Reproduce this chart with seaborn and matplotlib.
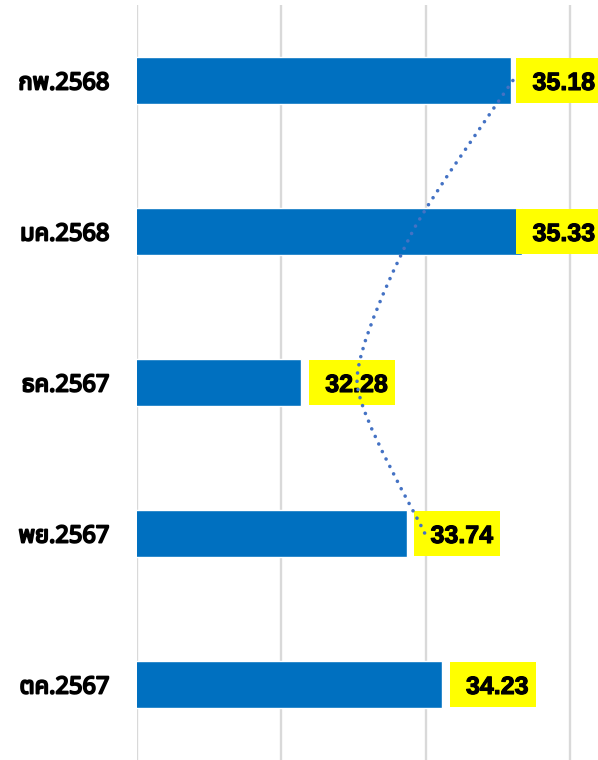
import matplotlib
matplotlib.use("Agg")
import matplotlib.pyplot as plt
from matplotlib.patches import Rectangle, PathPatch
from matplotlib.path import Path
import matplotlib.patheffects as pe
import numpy as np
import seaborn as sns

# Monthly values, listed top to bottom
months = ["กพ.2568", "มค.2568", "ธค.2567", "พย.2567", "ตค.2567"]
values = [35.18, 35.33, 32.28, 33.74, 34.23]

# Dotted trend series (Feb, Jan, Dec, Nov)
trend_months = ["กพ.2568", "มค.2568", "ธค.2567", "พย.2567"]
trend_values = [35.21, 33.82, 33.05, 33.99]

label_values = [f"{v:.2f}" for v in values]

sns.set_theme(style="white")
thai_fonts = ["Noto Sans Thai", "Noto Sans Thai UI", "Noto Looped Thai", "Sarabun",
              "Kanit", "Loma", "Garuda", "Tlwg Typist", "Norasi", "DejaVu Sans"]
plt.rcParams["font.family"] = thai_fonts

XMIN, XMAX = 30.0, 36.39
PX_PER_UNIT = 72.1

fig = plt.figure(figsize=(5.98, 7.60), dpi=100)
ax = fig.add_axes([137 / 598, 0.0, 461 / 598, 755 / 760])

sns.barplot(x=values, y=months, order=months, orient="h", color="#0070C0",
            width=0.31, saturation=1, ax=ax, zorder=2)

ax.set_xlim(XMIN, XMAX)
ax.set_ylim(4.5, -0.5)
ax.set_xticks([30, 32, 34, 36])
ax.xaxis.grid(True, color="#d9d9d9", linewidth=1.7, zorder=0)
ax.set_axisbelow(True)
ax.tick_params(axis="x", length=0, labelbottom=False)
ax.tick_params(axis="y", length=0, pad=20)
for s in ax.spines.values():
    s.set_visible(False)
ax.set_xlabel("")
ax.set_ylabel("")
for t in ax.get_yticklabels():
    t.set_fontweight("bold")
    t.set_fontsize(17)
    t.set_color("black")
    t.set_path_effects([pe.withStroke(linewidth=1.4, foreground="black")])

# Yellow value boxes next to each bar
gap = 7.5 / PX_PER_UNIT
box_w = 86 / PX_PER_UNIT
box_h = 0.30
label_limit = 36.45
for i, (v, txt) in enumerate(zip(values, label_values)):
    left = min(v + gap, label_limit - box_w)
    ax.add_patch(Rectangle((left, i - box_h / 2), box_w, box_h,
                           facecolor="#FFFF00", edgecolor="none", zorder=3,
                           clip_on=False))
    ax.text(left + 47.5 / PX_PER_UNIT, i, txt, ha="center", va="center_baseline",
            fontsize=18, fontweight="bold", family="Liberation Sans",
            color="black", zorder=4,
            path_effects=[pe.withStroke(linewidth=0.8, foreground="black")])

# Smoothed dotted trend line (cardinal spline built in display space)
pos = {m: k for k, m in enumerate(months)}
pts = ax.transData.transform(np.column_stack([trend_values,
                                              [pos[m] for m in trend_months]]))
n = len(pts)
smooth = 1 / 9
verts = [pts[0]]
codes = [Path.MOVETO]
for k in range(n - 1):
    p_prev = pts[k - 1] if k > 0 else pts[k]
    p_next2 = pts[k + 2] if k + 2 < n else pts[k + 1]
    c1 = pts[k] + (pts[k + 1] - p_prev) * smooth
    c2 = pts[k + 1] - (p_next2 - pts[k]) * smooth
    verts += [c1, c2, pts[k + 1]]
    codes += [Path.CURVE4] * 3
verts = ax.transData.inverted().transform(np.array(verts))
ax.add_patch(PathPatch(Path(verts, codes), facecolor="none", edgecolor="#4472C4",
                       linewidth=2.6, linestyle=(0, (0.01, 2.3)),
                       capstyle="round", zorder=5))

fig.savefig("out.png", dpi=100)
